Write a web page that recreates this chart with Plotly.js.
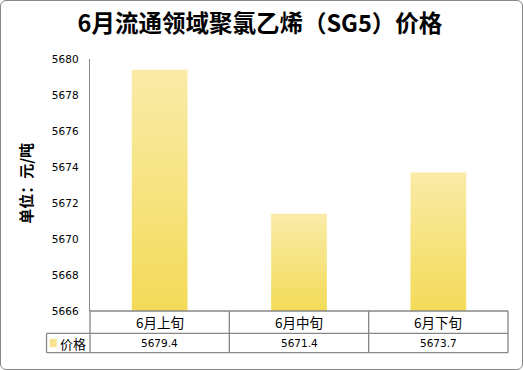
<!DOCTYPE html>
<html>
<head>
<meta charset="utf-8">
<script src="https://cdn.plot.ly/plotly-3.0.1.min.js"></script>
<style>
  html, body { margin: 0; padding: 0; background: #fff; }
  #wrap { position: relative; width: 523px; height: 370px; }
  #chart { width: 523px; height: 370px; }
  #frame { position: absolute; left: 0; top: 0; width: 523px; height: 370px; box-sizing: border-box;
           border: 1px solid #868686; border-radius: 6px; pointer-events: none; }
  #chart .trace.bars .point path { fill: url(#barGrad) !important; }
  #gradsvg { position: absolute; width: 0; height: 0; overflow: hidden; }
</style>
</head>
<body>
<svg id="gradsvg" xmlns="http://www.w3.org/2000/svg" width="0" height="0">
  <defs>
    <linearGradient id="barGrad" x1="0" y1="0" x2="0" y2="1">
      <stop offset="0" stop-color="#FAEBA8"/>
      <stop offset="1" stop-color="#F3DB58"/>
    </linearGradient>
  </defs>
</svg>
<div id="wrap">
  <div id="chart"></div>
  <div id="frame"></div>
</div>
<script>
const titleText = '6月流通领域聚氯乙烯（SG5）价格';
const yTitle = '单位：元/吨';
const seriesName = '价格';
const categories = ['6月上旬', '6月中旬', '6月下旬'];
const prices = [5679.4, 5671.4, 5673.7];
const valueLabels = ['5679.4', '5671.4', '5673.7'];
const yTicks = [5666, 5668, 5670, 5672, 5674, 5676, 5678, 5680];
const axisMin = 5666;
const axisMax = 5680;

const lineColor = '#868686';
const cjk = '"Noto Sans CJK SC", "Noto Sans", sans-serif';
const num = '"DejaVu Sans", sans-serif';

// table geometry in paper coordinates (plot area: x 90..508, y 59..311)
const row1Bottom = -0.0885;
const row2Bottom = -0.1655;
const legendLeft = -0.104;

const shapes = [];
const hline = (x0, x1, y, xref) => ({type: 'line', xref: xref || 'paper', yref: 'paper', x0: x0, x1: x1, y0: y, y1: y, line: {color: lineColor, width: 1.3}});
const vline = (x, y0, y1, xref) => ({type: 'line', xref: xref || 'paper', yref: 'paper', x0: x, x1: x, y0: y0, y1: y1, line: {color: lineColor, width: 1.3}});
shapes.push(hline(0, 1, 0));
shapes.push(hline(legendLeft, 1, row1Bottom));
shapes.push(hline(legendLeft, 1, row2Bottom));
shapes.push(vline(0, 0, row2Bottom));
shapes.push(vline(1, 0, row2Bottom));
shapes.push(vline(legendLeft, row1Bottom, row2Bottom));
for (let i = 0; i < categories.length - 1; i++) {
  shapes.push(vline(i + 0.5, 0, row2Bottom, 'x'));
}
// legend swatch
shapes.push({type: 'rect', xref: 'paper', yref: 'paper', x0: -0.0965, x1: -0.0795, y0: -0.1105, y1: -0.1435,
             fillcolor: '#F7E48C', line: {width: 0}});

const annotations = [];
categories.forEach((c, i) => {
  annotations.push({xref: 'x', yref: 'paper', x: i, y: row1Bottom / 2, text: c, showarrow: false,
                    xanchor: 'center', yanchor: 'middle', font: {family: cjk, size: 13.5, color: '#000'}});
  annotations.push({xref: 'x', yref: 'paper', x: i, y: (row1Bottom + row2Bottom) / 2, text: valueLabels[i], showarrow: false,
                    xanchor: 'center', yanchor: 'middle', font: {family: num, size: 10.5, color: '#000'}});
});
annotations.push({xref: 'paper', yref: 'paper', x: -0.077, y: (row1Bottom + row2Bottom) / 2, text: seriesName, showarrow: false,
                  xanchor: 'left', yanchor: 'middle', font: {family: cjk, size: 13, color: '#000'}});
annotations.push({xref: 'paper', yref: 'paper', x: -0.153, y: 0.505, text: '<b>' + yTitle + '</b>', showarrow: false,
                  textangle: -90, xanchor: 'center', yanchor: 'middle', font: {family: cjk, size: 15, color: '#000'}});

const data = [{
  type: 'bar',
  x: categories,
  y: prices.map(v => v - axisMin),
  base: axisMin,
  name: seriesName,
  marker: {color: '#F6E17C', line: {width: 0}},
  hoverinfo: 'none'
}];

const layout = {
  width: 523, height: 370,
  margin: {l: 90, r: 15, t: 59, b: 59, pad: 0},
  paper_bgcolor: 'rgba(0,0,0,0)',
  plot_bgcolor: '#fff',
  showlegend: false,
  bargap: 0.6,
  title: {text: '<b>' + titleText + '</b>', x: 0.497, xanchor: 'center', y: 0.937, yanchor: 'middle', yref: 'container',
          font: {family: cjk, size: 23.5, color: '#000'}},
  xaxis: {type: 'category', showticklabels: false, ticks: '', showgrid: false, zeroline: false, showline: false,
          range: [-0.5, categories.length - 0.5], fixedrange: true},
  yaxis: {range: [axisMin, axisMax], tickvals: yTicks, ticktext: yTicks.map(String), showgrid: false, zeroline: false,
          showline: true, linecolor: lineColor, linewidth: 1.3, ticks: '', ticklabelstandoff: 8,
          tickfont: {family: num, size: 10.5, color: '#000'}, fixedrange: true},
  shapes: shapes,
  annotations: annotations
};

Plotly.newPlot('chart', data, layout, {staticPlot: true, displayModeBar: false});
</script>
</body>
</html>
